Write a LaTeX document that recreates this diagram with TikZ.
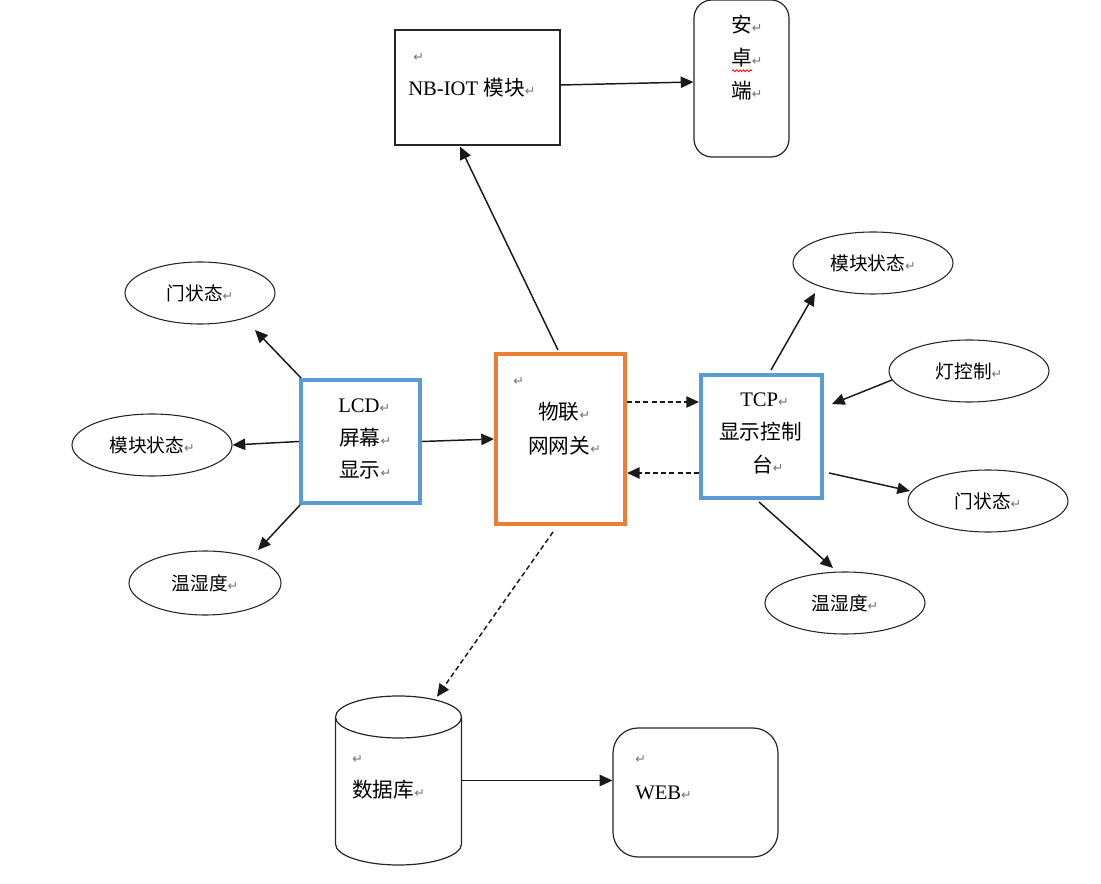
\documentclass[tikz,border=0pt]{standalone}
\usepackage{fontspec}
\setmainfont{Liberation Serif}
\newfontfamily\cjk{Noto Sans CJK SC}
\newfontfamily\symf{DejaVu Sans}
\usetikzlibrary{arrows.meta,shapes.geometric,calc,decorations.pathmorphing}
\definecolor{gworange}{HTML}{ED7D31}
\definecolor{boxblue}{HTML}{5B9BD5}
\newcommand{\rt}{{\symf\fontsize{9.5}{10}\selectfont\color{black!55}↵}}
\begin{document}
\begin{tikzpicture}[x=0.75pt,y=-0.75pt,
  thinbox/.style={draw=black!85, line width=0.9pt, fill=white, inner sep=0},
  thickbox/.style={draw=#1, line width=3pt, fill=white, inner sep=0},
  bubble/.style={ellipse, draw=black!85, line width=0.8pt, fill=white, inner sep=0,
     minimum width=120pt, minimum height=46.5pt, font=\fontsize{14}{16}\selectfont\cjk},
  txt/.style={inner sep=0, anchor=west, font=\fontsize{15.5}{18}\selectfont},
  arr/.style={line width=1.1pt, black!90, -{Triangle[length=9.5pt,width=8.5pt]}},
  darr/.style={arr, dash pattern=on 3.75pt off 2.4pt}]
\useasboundingbox (0,0) rectangle (1101,884);

% main boxes
\node[thinbox, minimum width=123.75pt, minimum height=86.25pt] (nb) at (477.5,87.5) {};
\node[thinbox, rounded corners=13.5pt, minimum width=71.25pt, minimum height=117.75pt] (az) at (741.5,78.5) {};
\node[thickbox=gworange, minimum width=96.75pt, minimum height=127.5pt] (gw) at (560.5,439) {};
\node[thickbox=boxblue, minimum width=89.25pt, minimum height=92.25pt] (lcd) at (360.5,441.5) {};
\node[thickbox=boxblue, minimum width=90.75pt, minimum height=92.25pt] (tcp) at (761.5,436.5) {};
\node[thinbox, rounded corners=18.75pt, minimum width=123.75pt, minimum height=96.75pt] (web) at (695.5,792.5) {};

% database cylinder
\node[inner sep=0, minimum width=94.5pt, minimum height=126.75pt] (db) at (398.5,780.5) {};
\draw[black!85, line width=0.9pt, fill=white] (335.5,717) -- (335.5,844)
   arc[start angle=180, end angle=0, x radius=63, y radius=21] -- (461.5,717);
\draw[black!85, line width=0.9pt, fill=white] (398.5,717) ellipse[x radius=63, y radius=21];

% ellipses
\node[bubble, minimum width=112.5pt] (l1) at (200,293) {门状态\rt};
\node[bubble] (l2) at (152,445) {模块状态\rt};
\node[bubble, minimum width=114pt, minimum height=48pt] (l3) at (205,583) {温湿度\rt};
\node[bubble] (r1) at (873,263) {模块状态\rt};
\node[bubble] (r2) at (969,371) {灯控制\rt};
\node[bubble] (r3) at (988,501) {门状态\rt};
\node[bubble] (r4) at (845,603) {温湿度\rt};

% texts
\node[txt] (nbr) at (413,58) {\rt};
\node[txt] (nbt) at (408,88) {NB-IOT {\cjk 模块}\rt};
\node[txt] (az1) at (731,25) {{\cjk 安}\rt};
\node[txt] (az2) at (731,58) {{\cjk 卓}\rt};
\node[txt] (az3) at (731,91) {{\cjk 端}\rt};
\draw[red, line width=0.6pt, decorate, decoration={snake, amplitude=0.7pt, segment length=2.6pt}]
   ($(az2.south west)+(1,3)$) -- ($(az2.south west)+(21,3)$);
\node[txt] (gwr) at (513,382) {\rt};
\node[txt] (gw1) at (538,412) {{\cjk 物联}\rt};
\node[txt] (gw2) at (528,446) {{\cjk 网网关}\rt};
\node[txt] (lcd1) at (338,406) {LCD\rt};
\node[txt] (lcd2) at (339,438) {{\cjk 屏幕}\rt};
\node[txt] (lcd3) at (339,470) {{\cjk 显示}\rt};
\node[txt] (tcp1) at (740,400) {TCP\rt};
\node[txt] (tcp2) at (719,432) {{\cjk 显示控制}};
\node[txt] (tcp3) at (752,465) {{\cjk 台}\rt};
\node[txt] (dbr) at (352,760) {\rt};
\node[txt] (db1) at (352,790) {{\cjk 数据库}\rt};
\node[txt] (webr) at (635,760) {\rt};
\node[txt] (web1) at (635,793) {WEB\rt};

% connectors
\draw[arr] ($(nb.east)+(0,-2.5)$) -- ($(az.west)+(0,3.5)$);
\draw[arr] ($(gw.north)+(-2.5,-2)$) -- ($(nb.south)+(-17.5,1)$);
\draw[arr] (lcd.east) -- (gw.west);
\draw[darr] ($(gw.east)+(0,-37)$) -- ($(tcp.west)+(0,-34.5)$);
\draw[darr] ($(tcp.west)+(0,36.5)$) -- ($(gw.east)+(0,34)$);
\draw[darr] ($(gw.south)+(-7.5,6)$) -- ($(db.north)+(38.5,1)$);
\draw[arr] (db.east) -- (db.east -| web.west);
\draw[arr] ($(lcd.north west)+(2,0)$) -- ($(l1.center)+(55,37)$);
\draw[arr] (lcd.west) -- (l2.east);
\draw[arr] ($(lcd.south west)+(1,0)$) -- ($(l3.center)+(53,-33)$);
\draw[arr] ($(tcp.north)+(9.5,-3)$) -- ($(r1.center)+(-58,30)$);
\draw[arr] ($(r2.center)+(-77,9)$) -- ($(tcp.east)+(8,-32.5)$);
\draw[arr] ($(tcp.east)+(5,36.5)$) -- ($(r3.center)+(-78,-10)$);
\draw[arr] ($(tcp.south)+(-2.5,2)$) -- ($(r4.center)+(-12,-35)$);
\end{tikzpicture}
\end{document}
